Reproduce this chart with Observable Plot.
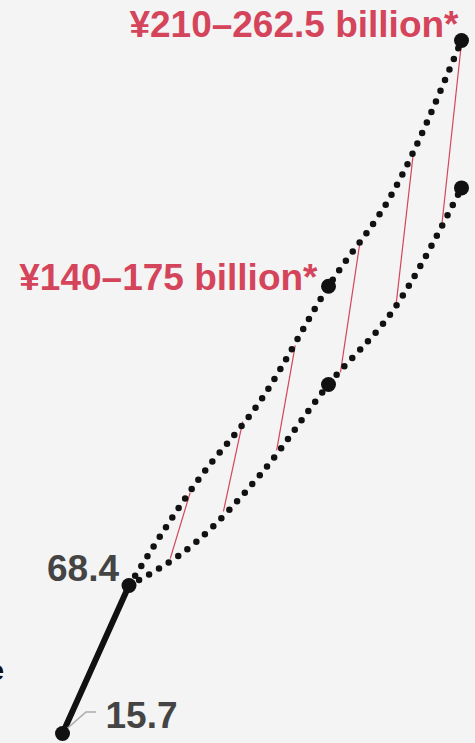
<!DOCTYPE html>
<html>
<head>
<meta charset="utf-8">
<script src="https://cdn.jsdelivr.net/npm/d3@7"></script>
<script src="https://cdn.jsdelivr.net/npm/@observablehq/plot@0.6"></script>
<style>
  html, body { margin: 0; padding: 0; background: #f4f4f4; }
  #chart svg { display: block; }
</style>
</head>
<body>
<div id="chart"></div>
<script>
// Reported values
const actualYears = [2017, 2018];
const actualValues = [15.7, 68.4];

// Projection paths
const pathYears = [2018, 2019, 2020, 2021, 2022, 2023];
const lowPath  = [68.4, 83.7, 108.6, 140, 167.4, 210];
const highPath = [68.4, 104.7, 135.0, 175, 209.8, 262.5];

// Projected ranges
const projYears = [2021, 2023];
const projLow  = [140, 210];
const projHigh = [175, 262.5];
const rangeLabels = ["¥140–175 billion*", "¥210–262.5 billion*"];

// Hatch lines between the two projections
const hatchYear1 = [2018.62, 2019.42, 2020.22, 2021.18, 2022.01, 2022.70];
const hatchVal1  = [78.0, 94.8, 116.5, 144.3, 167.1, 195.9];
const hatchYear2 = [2018.92, 2019.71, 2020.50, 2021.47, 2022.28, 2023.0];
const hatchVal2  = [101.5, 126.8, 153.9, 190.2, 223.3, 261.8];

// Cut-off label at left edge (cropped in the reference)
const cutLabel = ["e"];
const cutLabelValue = [38];

const actual = actualYears.map((y, i) => ({year: y, value: actualValues[i]}));
const low = pathYears.map((y, i) => ({year: y, value: lowPath[i]}));
const high = pathYears.map((y, i) => ({year: y, value: highPath[i]}));
const hatch = hatchYear1.map((y, i) => ({x1: y, y1: hatchVal1[i], x2: hatchYear2[i], y2: hatchVal2[i]}));
const bigDots = [
  ...actual,
  ...projYears.map((y, i) => ({year: y, value: projLow[i]})),
  ...projYears.map((y, i) => ({year: y, value: projHigh[i]}))
];
const rangeText = projYears.map((y, i) => ({year: y, value: projHigh[i], label: rangeLabels[i]}));

const ink = "#111111";
const red = "#d4455b";
const numColor = "#444444";
const font = "'Liberation Sans', Arial, Helvetica, sans-serif";

const leader = (index, scales) => {
  const x0 = scales.x(actualYears[0]);
  const y0 = scales.y(actualValues[0]);
  return d3.create("svg:path")
    .attr("d", `M${x0},${y0}l24,-21h10`)
    .attr("fill", "none")
    .attr("stroke", "#aaaaaa")
    .attr("stroke-width", 1.6)
    .node();
};

const chart = Plot.plot({
  width: 475,
  height: 743,
  margin: 0,
  style: {background: "#f4f4f4", fontFamily: font, overflow: "hidden"},
  x: {domain: [2017, 2023], range: [62, 461], axis: null},
  y: {domain: [15.7, 262.5], range: [733, 40], axis: null},
  marks: [
    Plot.link(hatch, {x1: "x1", y1: "y1", x2: "x2", y2: "y2", stroke: red, strokeWidth: 1.2}),
    Plot.line(high, {x: "year", y: "value", curve: "monotone-x", stroke: ink, strokeWidth: 6.5, strokeDasharray: "0 11.5", strokeLinecap: "round"}),
    Plot.line(low, {x: "year", y: "value", curve: "monotone-x", stroke: ink, strokeWidth: 6.5, strokeDasharray: "0 11.5", strokeLinecap: "round"}),
    Plot.line(actual, {x: "year", y: "value", stroke: ink, strokeWidth: 6}),
    leader,
    Plot.dot(bigDots, {x: "year", y: "value", r: 7.5, fill: ink, stroke: "none"}),
    Plot.text([actual[1]], {x: "year", y: "value", text: d => String(d.value), textAnchor: "end", dx: -10, dy: -16, fontSize: 37, fontWeight: "bold", fill: numColor}),
    Plot.text([actual[0]], {x: "year", y: "value", text: d => String(d.value), textAnchor: "start", dx: 43, dy: -17, fontSize: 37, fontWeight: "bold", fill: numColor}),
    Plot.text([rangeText[0]], {x: "year", y: "value", text: "label", textAnchor: "end", dx: -11, dy: -8, fontSize: 37, fontWeight: "bold", fill: red}),
    Plot.text([rangeText[1]], {x: "year", y: "value", text: "label", textAnchor: "end", dx: -3, dy: -15, fontSize: 37, fontWeight: "bold", fill: red}),
    Plot.text(cutLabel, {frameAnchor: "left", y: cutLabelValue, text: d => d, textAnchor: "end", dx: 3.5, fontSize: 27, fontWeight: "bold", fill: ink})
  ]
});

document.getElementById("chart").appendChild(chart);
</script>
</body>
</html>
